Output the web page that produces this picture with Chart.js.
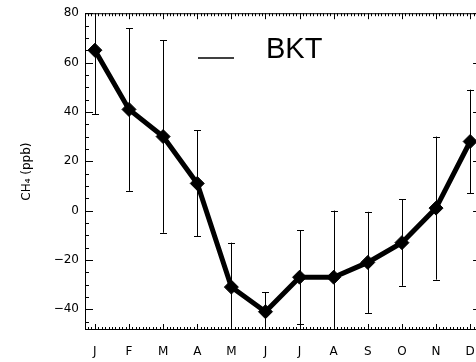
<!DOCTYPE html>
<html>
<head>
<meta charset="utf-8">
<script src="https://cdn.jsdelivr.net/npm/chart.js@4.4.0/dist/chart.umd.min.js"></script>
<style>
  html, body { margin: 0; padding: 0; background: #fff; overflow: hidden; }
  #wrap { width: 490px; height: 362px; }
</style>
</head>
<body>
<div id="wrap"><canvas id="myChart" width="490" height="362"></canvas></div>
<script>
// data
var months = ['J', 'F', 'M', 'A', 'M', 'J', 'J', 'A', 'S', 'O', 'N', 'D'];
var ch4 = [65, 41, 30, 11, -31, -41, -27, -27, -21, -13, 1, 28];
var ch4Err = [26, 33, 39, 21.5, 18, 8, 19, 27, 20.5, 17.5, 29, 21];
var yTicks = [-40, -20, 0, 20, 40, 60, 80];
var seriesName = 'BKT';

var points = ch4.map(function(v, i) { return { x: i, y: v }; });

// error bars, drawn through the scales
var errorBars = {
    id: 'errorBars',
    beforeDatasetsDraw: function(chart) {
        var ctx = chart.ctx, xs = chart.scales.x, ys = chart.scales.y, a = chart.chartArea;
        ctx.save();
        ctx.beginPath();
        ctx.rect(a.left, a.top, a.right - a.left, a.bottom - a.top);
        ctx.clip();
        ctx.strokeStyle = '#000';
        ctx.lineWidth = 1;
        ch4.forEach(function(v, i) {
            var x = Math.round(xs.getPixelForValue(i)) + 0.5;
            var yt = ys.getPixelForValue(v + ch4Err[i]);
            var yb = ys.getPixelForValue(v - ch4Err[i]);
            ctx.beginPath();
            ctx.moveTo(x, yt); ctx.lineTo(x, yb);
            ctx.moveTo(x - 3.5, Math.round(yt) + 0.5); ctx.lineTo(x + 3.5, Math.round(yt) + 0.5);
            ctx.moveTo(x - 3.5, Math.round(yb) + 0.5); ctx.lineTo(x + 3.5, Math.round(yb) + 0.5);
            ctx.stroke();
        });
        ctx.restore();
    }
};

// box with inward ticks on all four sides
var frameTicks = {
    id: 'frameTicks',
    afterDraw: function(chart) {
        var ctx = chart.ctx, xs = chart.scales.x, ys = chart.scales.y, a = chart.chartArea;
        ctx.save();
        ctx.strokeStyle = '#000';
        ctx.lineWidth = 1;
        ctx.strokeRect(a.left + 0.5, a.top + 0.5, a.right - a.left - 1, a.bottom - a.top - 1);
        ctx.beginPath();
        // x: months major, 10 minor per month
        for (var k = Math.ceil(xs.min * 10); k <= Math.floor(xs.max * 10); k++) {
            var x = Math.round(xs.getPixelForValue(k / 10)) + 0.5;
            var len = (k % 10 === 0) ? 6 : 3;
            ctx.moveTo(x, a.top); ctx.lineTo(x, a.top + len);
            ctx.moveTo(x, a.bottom); ctx.lineTo(x, a.bottom - len);
        }
        // y: major every 20, minor every 5
        for (var v = Math.ceil(ys.min / 5) * 5; v <= ys.max; v += 5) {
            var y = Math.round(ys.getPixelForValue(v)) + 0.5;
            var l = (v % 20 === 0) ? 8 : 4;
            ctx.moveTo(a.left, y); ctx.lineTo(a.left + l, y);
            ctx.moveTo(a.right, y); ctx.lineTo(a.right - l, y);
        }
        ctx.stroke();

        // legend inside the plot
        ctx.lineWidth = 1.5;
        ctx.beginPath();
        ctx.moveTo(198, 58); ctx.lineTo(234, 58);
        ctx.stroke();
        ctx.fillStyle = '#000';
        ctx.font = '29px "DejaVu Sans ExtraLight", "Liberation Sans", sans-serif';
        ctx.textBaseline = 'alphabetic';
        ctx.fillText(chart.data.datasets[0].label, 266, 58);
        ctx.restore();
    }
};

var ctx = document.getElementById('myChart').getContext('2d');
var myChart = new Chart(ctx, {
    type: 'line',
    data: {
        datasets: [{
            label: seriesName,
            data: points,
            borderColor: '#000',
            backgroundColor: '#000',
            borderWidth: 5,
            tension: 0,
            pointStyle: 'rectRot',
            pointRadius: 7,
            pointBorderWidth: 1,
            pointBackgroundColor: '#000',
            pointBorderColor: '#000'
        }]
    },
    options: {
        responsive: false,
        animation: false,
        layout: { padding: { top: 9, right: 5, left: 0, bottom: 0 } },
        plugins: {
            legend: { display: false },
            tooltip: { enabled: false }
        },
        scales: {
            x: {
                type: 'linear',
                min: -0.29,
                max: 11.32,
                grid: { display: false, drawTicks: false },
                border: { display: false },
                afterBuildTicks: function(scale) {
                    scale.ticks = months.map(function(m, i) { return { value: i }; });
                },
                afterFit: function(scale) { scale.height = 32; },
                ticks: {
                    padding: 15,
                    autoSkip: false,
                    maxRotation: 0,
                    color: '#000',
                    font: { family: '"DejaVu Sans", sans-serif', size: 12 },
                    callback: function(v) { return months[v]; }
                }
            },
            y: {
                min: -48.4,
                max: 80,
                grid: { display: false, drawTicks: false },
                border: { display: false },
                afterBuildTicks: function(scale) {
                    scale.ticks = yTicks.map(function(v) { return { value: v }; });
                },
                afterFit: function(scale) { scale.width = 85; },
                title: {
                    display: true,
                    text: 'CH\u2084 (ppb)',
                    color: '#000',
                    font: { family: '"DejaVu Sans", sans-serif', size: 12 },
                    padding: { top: 20, bottom: 0 }
                },
                ticks: {
                    padding: 6,
                    color: '#000',
                    font: { family: '"DejaVu Sans", sans-serif', size: 12 },
                    callback: function(v) { return String(v).replace('-', '\u2212'); }
                }
            }
        }
    },
    plugins: [errorBars, frameTicks]
});
</script>
</body>
</html>
